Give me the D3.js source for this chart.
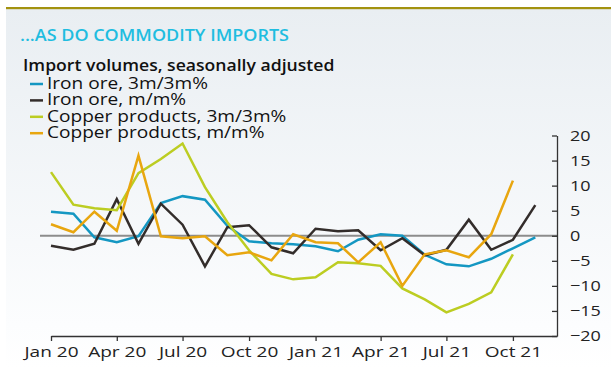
<!DOCTYPE html>
<html>
<head>
<meta charset="utf-8">
<script src="https://cdn.jsdelivr.net/npm/d3@7"></script>
<style>
  html, body { margin: 0; padding: 0; background: #fff; }
  svg { display: block; font-family: "Open Sans", sans-serif; }
</style>
</head>
<body>
<svg id="chart" width="611" height="368"></svg>
<script>
// monthly values, first point = Jan 2020
var startMonth = "2020-01";
var ironOre3m = [4.8, 4.4, -0.3, -1.3, -0.1, 6.5, 7.9, 7.2, 2.0, -1.1, -1.5, -1.7,
                 -2.1, -3.1, -0.8, 0.3, 0.0, -3.8, -5.7, -6.1, -4.6, -2.5, -0.3];
var ironOreMm = [-2.0, -2.8, -1.6, 7.3, -1.6, 6.4, 2.2, -6.1, 1.7, 2.1, -2.3, -3.5,
                 1.4, 0.9, 1.1, -2.9, -0.5, -3.9, -2.8, 3.2, -2.8, -0.8, 6.1];
var copper3m = [12.7, 6.2, 5.5, 5.1, 12.5, 15.3, 18.4, 9.7, 2.7, -2.9, -7.6, -8.7,
                -8.3, -5.3, -5.5, -6.0, -10.5, -12.7, -15.3, -13.6, -11.3, -3.7];
var copperMm = [2.3, 0.7, 4.8, 1.0, 16.0, -0.1, -0.5, -0.1, -3.9, -3.3, -4.9, 0.3,
                -1.3, -1.5, -5.3, -1.3, -10.0, -3.7, -2.9, -4.3, 0.3, 11.0];

var seriesNames = ["Iron ore, 3m/3m%", "Iron ore, m/m%", "Copper products, 3m/3m%", "Copper products, m/m%"];
var seriesColors = ["#1497c2", "#332d2b", "#bccd22", "#e8a60f"];
var yTicks = [20, 15, 10, 5, 0, -5, -10, -15, -20];

var title = "...AS DO COMMODITY IMPORTS";
var subtitle = "Import volumes, seasonally adjusted";

var svg = d3.select("#chart"),
    width = +svg.attr("width"),
    height = +svg.attr("height");

var parseMonth = d3.timeParse("%Y-%m");
var t0 = parseMonth(startMonth);

// the source font is a wide face, stretch text a bit horizontally
function widen(sel, k) {
    sel.each(function () {
        var w = this.getComputedTextLength();
        d3.select(this).attr("textLength", w * k).attr("lengthAdjust", "spacingAndGlyphs");
    });
}

// background panel
var defs = svg.append("defs");
var grad = defs.append("linearGradient").attr("id", "bg")
    .attr("x1", 0).attr("y1", 0).attr("x2", 0).attr("y2", 1);
grad.append("stop").attr("offset", "0%").attr("stop-color", "#e9eef2");
grad.append("stop").attr("offset", "88%").attr("stop-color", "#fcfdfe");
grad.append("stop").attr("offset", "100%").attr("stop-color", "#ffffff");

svg.append("rect").attr("x", 6).attr("y", 9)
    .attr("width", width - 6).attr("height", height - 9)
    .attr("fill", "url(#bg)");
svg.append("rect").attr("x", 6).attr("y", 7)
    .attr("width", width - 6).attr("height", 2.2)
    .attr("fill", "#a3920f");

svg.append("text").text(title)
    .attr("x", 20).attr("y", 41)
    .attr("fill", "#1fbde0")
    .style("font-size", "15.5px").style("font-weight", 600)
    .call(widen, 1.16);

svg.append("text").text(subtitle)
    .attr("x", 23).attr("y", 71)
    .attr("fill", "#111")
    .style("font-size", "16px").style("font-weight", 600)
    .call(widen, 1.1);

// legend
var legend = svg.append("g");
seriesNames.forEach(function (name, i) {
    var yy = 84 + i * 16.4;
    legend.append("line")
        .attr("x1", 30).attr("x2", 43).attr("y1", yy).attr("y2", yy)
        .attr("stroke", seriesColors[i]).attr("stroke-width", 2.5);
    legend.append("text").text(name)
        .attr("x", 47).attr("y", yy + 5)
        .attr("fill", "#111")
        .style("font-size", "15.5px")
        .call(widen, 1.23);
});

// scales
var x = d3.scaleTime()
    .domain([t0, d3.timeMonth.offset(t0, 23)])
    .range([51, 557]);
var y = d3.scaleLinear().domain([-20, 20]).range([336, 135.5]);

// zero line
svg.append("line")
    .attr("x1", 40).attr("x2", 557)
    .attr("y1", y(0)).attr("y2", y(0))
    .attr("stroke", "#8c8c8c").attr("stroke-width", 2.2);

// axes
var xAxis = d3.axisBottom(x)
    .tickValues(d3.range(0, 22, 3).map(function (m) { return d3.timeMonth.offset(t0, m); }))
    .tickFormat(d3.timeFormat("%b %y"))
    .tickSize(5).tickSizeOuter(0);
var gx = svg.append("g").attr("transform", "translate(0," + y(-20) + ")").call(xAxis);
gx.select(".domain").attr("stroke", "#333").attr("stroke-width", 1.3);
gx.selectAll(".tick line").attr("stroke", "#333").attr("stroke-width", 1.3);
gx.selectAll("text").attr("fill", "#222").attr("dy", "0").attr("y", 21)
    .style("font-size", "15px").style("font-family", "Open Sans, sans-serif")
    .call(widen, 1.27);

var yAxis = d3.axisRight(y).tickValues(yTicks).tickSize(-5).tickSizeOuter(0);
var gy = svg.append("g").attr("transform", "translate(557,0)").call(yAxis);
gy.select(".domain").attr("stroke", "#333").attr("stroke-width", 1.3);
gy.selectAll(".tick line").attr("stroke", "#333").attr("stroke-width", 1.3);
gy.selectAll("text").attr("fill", "#222").attr("x", 13)
    .style("font-size", "15px").style("font-family", "Open Sans, sans-serif")
    .call(widen, 1.2);

// series
var line = d3.line()
    .x(function (d, i) { return x(d3.timeMonth.offset(t0, i)); })
    .y(function (d) { return y(d); });

[ironOre3m, ironOreMm, copper3m, copperMm].forEach(function (vals, i) {
    svg.append("path")
        .attr("d", line(vals))
        .attr("fill", "none")
        .attr("stroke", seriesColors[i])
        .attr("stroke-width", 2.5)
        .attr("stroke-linejoin", "miter");
});
</script>
</body>
</html>
